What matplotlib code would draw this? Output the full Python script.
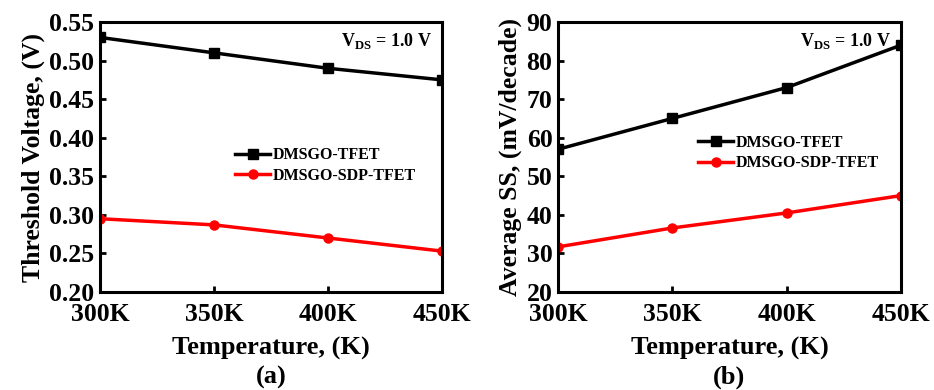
import matplotlib
matplotlib.use("Agg")
import matplotlib.pyplot as plt

plt.rcParams['font.family'] = ['Liberation Serif', 'DejaVu Serif']
plt.rcParams['font.weight'] = 'bold'
plt.rcParams['mathtext.fontset'] = 'custom'
plt.rcParams['mathtext.rm'] = 'Liberation Serif:bold'
plt.rcParams['mathtext.bf'] = 'Liberation Serif:bold'

temps = [300, 350, 400, 450]
temp_labels = ['300K', '350K', '400K', '450K']

vth_tfet = [0.530, 0.510, 0.490, 0.475]
vth_sdp = [0.295, 0.287, 0.270, 0.253]

ss_tfet = [57, 65, 73, 84]
ss_sdp = [31.7, 36.6, 40.5, 45.0]

fig = plt.figure(figsize=(9.34, 3.9), dpi=100)
ax1 = fig.add_axes([100 / 934, 1 - 292 / 390, 342 / 934, 270 / 390])
ax2 = fig.add_axes([558 / 934, 1 - 292 / 390, 343 / 934, 270 / 390])


def style(ax, ylabel, letter, legend_pos):
    ax.set_xlim(300, 450)
    ax.set_xticks(temps)
    ax.set_xticklabels(temp_labels)
    ax.tick_params(labelsize=18.5, width=2, length=4, direction='in')
    ax.tick_params(axis='x', pad=8)
    ax.tick_params(axis='y', pad=4)
    for lab in ax.get_xticklabels() + ax.get_yticklabels():
        lab.set_fontweight('bold')
    for s in ax.spines.values():
        s.set_linewidth(2.2)
    ax.set_xlabel('Temperature, (K)', fontsize=19, fontweight='bold', labelpad=8)
    ax.set_ylabel(ylabel, fontsize=18.5, fontweight='bold', labelpad=3)
    pos = ax.get_position()
    fig.text((pos.x0 + pos.x1) / 2, 1 - 377 / 390, letter, ha='center', va='center',
             fontsize=19, fontweight='bold')
    ax.text(0.97, 0.93, r'V$_{\mathrm{DS}}$ = 1.0 V', transform=ax.transAxes,
            ha='right', va='center', fontsize=13, fontweight='bold')
    ax.legend(loc='center right', bbox_to_anchor=legend_pos, frameon=False,
              prop={'size': 11.5, 'weight': 'bold'}, handlelength=2.2,
              handletextpad=0.15, labelspacing=0.3)


ax1.plot(temps, vth_tfet, color='black', lw=2.5, marker='s', ms=6.5, label='DMSGO-TFET')
ax1.plot(temps, vth_sdp, color='red', lw=2.5, marker='o', ms=6.5, label='DMSGO-SDP-TFET')
ax1.set_ylim(0.20, 0.55)
ax1.set_yticks([0.20, 0.25, 0.30, 0.35, 0.40, 0.45, 0.50, 0.55])
ax1.set_yticklabels(['%.2f' % v for v in ax1.get_yticks()])
style(ax1, 'Threshold Voltage, (V)', '(a)', (0.966, 0.468))

ax2.plot(temps, ss_tfet, color='black', lw=2.5, marker='s', ms=6.5, label='DMSGO-TFET')
ax2.plot(temps, ss_sdp, color='red', lw=2.5, marker='o', ms=6.5, label='DMSGO-SDP-TFET')
ax2.set_ylim(20, 90)
ax2.set_yticks(range(20, 91, 10))
style(ax2, 'Average SS, (mV/decade)', '(b)', (0.977, 0.515))

fig.savefig('out.png', dpi=100)
